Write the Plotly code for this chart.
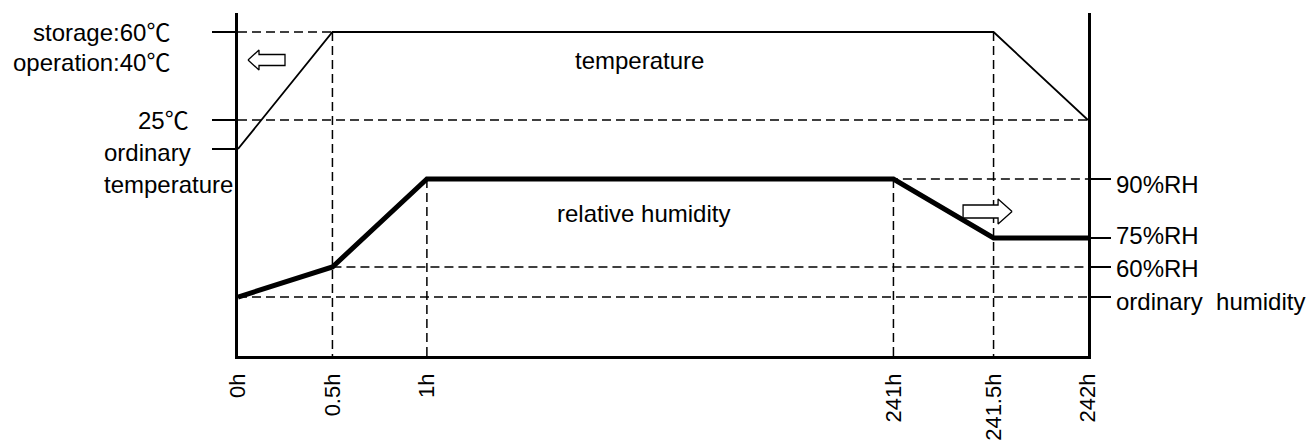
import plotly.graph_objects as go

# ---------------- data ----------------
# schematic time axis (not to scale)
time_labels = ["0h", "0.5h", "1h", "241h", "241.5h", "242h"]
time_pos = [0, 1, 2, 6.94, 8, 9]

# schematic level values (arbitrary units, axis range 0..343)
temp_level_names = ["ordinary temperature", "25℃", "60℃"]
temp_level_values = [207, 236, 324]
hum_level_names = ["ordinary humidity", "60%RH", "75%RH", "90%RH"]
hum_level_values = [59, 89, 118, 177]

# temperature profile
temp_times = ["0h", "0.5h", "241.5h", "242h"]
temp_values = [207, 324, 324, 236]

# relative-humidity profile
hum_times = ["0h", "0.5h", "1h", "241h", "241.5h", "242h"]
hum_values = [59, 89, 177, 177, 118, 118]

# dashed guide lines: (from time, to time, level)
h_guides = [("0h", "0.5h", 324), ("0h", "242h", 236), ("1h", "242h", 177),
            ("0.5h", "242h", 89), ("0h", "242h", 59)]
# (time, from level, to level)
v_guides = [("0.5h", 324, 0), ("1h", 177, 0), ("241h", 177, 0), ("241.5h", 324, 0)]

Y_MAX = 343
X_MAX = 9

FONT = "Liberation Sans, Arial, Noto Sans CJK SC, sans-serif"
pos = dict(zip(time_labels, time_pos))

fig = go.Figure()

dash = "9px,5px"
for t0, t1, lv in h_guides:
    fig.add_trace(go.Scatter(x=[pos[t0], pos[t1]], y=[lv, lv], mode="lines",
                             line=dict(color="black", width=1.5, dash=dash),
                             hoverinfo="skip", showlegend=False))
for t, l0, l1 in v_guides:
    fig.add_trace(go.Scatter(x=[pos[t], pos[t]], y=[l0, l1], mode="lines",
                             line=dict(color="black", width=1.5, dash=dash),
                             hoverinfo="skip", showlegend=False))

fig.add_trace(go.Scatter(x=[pos[t] for t in temp_times], y=temp_values, mode="lines",
                         line=dict(color="black", width=1.8), showlegend=False,
                         name="temperature"))
fig.add_trace(go.Scatter(x=[pos[t] for t in hum_times], y=hum_values, mode="lines",
                         line=dict(color="black", width=5), showlegend=False,
                         name="relative humidity"))

# hollow block arrows (pixel geometry converted to data units)
ML, MR, MT, MB = 238, 227, 13, 85
W, H = 1315, 441
px_x = (W - ML - MR) / X_MAX
px_y = (H - MT - MB) / Y_MAX


def block_arrow(tip_x, cy, direction, length, head_len, head_half, shaft_half):
    d = -direction  # body extends opposite to pointing direction
    pts = [(0, 0), (head_len, head_half), (head_len, shaft_half), (length, shaft_half),
           (length, -shaft_half), (head_len, -shaft_half), (head_len, -head_half), (0, 0)]
    xs = [tip_x + d * p[0] / px_x for p in pts]
    ys = [cy + p[1] / px_y for p in pts]
    return xs, ys


for tip_x, cy, direction, L, hl, hh, sh in [(10 / px_x, 296, -1, 37, 11, 10, 5.5),
                                            (8.196, 144.5, 1, 49, 14, 12.5, 6.5)]:
    xs, ys = block_arrow(tip_x, cy, direction, L, hl, hh, sh)
    fig.add_trace(go.Scatter(x=xs, y=ys, mode="lines", fill="toself", fillcolor="white",
                             line=dict(color="black", width=1.3), hoverinfo="skip",
                             showlegend=False))

# dummy trace on the right axis
fig.add_trace(go.Scatter(x=[0], y=[0], yaxis="y2", mode="markers",
                         marker=dict(opacity=0), hoverinfo="skip", showlegend=False))

FS = 24
ann = []


def add(text, x, y, xanchor, xref="x", xshift=0, yshift=0):
    ann.append(dict(text=text, x=x, y=y, xref=xref, yref="y", xanchor=xanchor,
                    yanchor="middle", xshift=xshift, yshift=yshift, showarrow=False,
                    font=dict(size=FS, color="black", family=FONT)))


# left labels
add("storage:60℃", 0, temp_level_values[2], "right", "paper", -66, 0)
add("operation:40℃", 0, temp_level_values[2], "right", "paper", -66, -30)
add("25℃", 0, temp_level_values[1], "right", "paper", -47, 0)
add("ordinary", 0, temp_level_values[0], "left", "paper", -136, -3)
add("temperature", 0, temp_level_values[0], "left", "paper", -136, -35)
# right labels
right_shift = {"90%RH": -5, "75%RH": 3, "60%RH": -1, "ordinary humidity": -4}
for name, lv in zip(hum_level_names, hum_level_values):
    txt = "ordinary  humidity" if name == "ordinary humidity" else name
    add(txt, 1, lv, "left", "paper", 26, right_shift[name])
# curve titles
add("temperature", 4.246, 296, "center")
add("relative humidity", 4.29, 143, "center")

fig.update_layout(
    width=W, height=H,
    margin=dict(l=ML, r=MR, t=MT, b=MB, autoexpand=False),
    paper_bgcolor="white", plot_bgcolor="white",
    font=dict(family=FONT, size=FS, color="black"),
    annotations=ann,
    xaxis=dict(range=[0, X_MAX], showgrid=False, zeroline=False, automargin=False,
               showline=True, linecolor="black", linewidth=2.5,
               tickmode="array", tickvals=time_pos, ticktext=time_labels,
               tickangle=-90, ticks="", ticklabelstandoff=6,
               tickfont=dict(size=22, family=FONT, color="black")),
    yaxis=dict(range=[0, Y_MAX], showgrid=False, zeroline=False, automargin=False,
               showline=True, linecolor="black", linewidth=2.5,
               tickmode="array", tickvals=temp_level_values, ticks="outside",
               ticklen=23, tickwidth=2, tickcolor="black", showticklabels=False),
    yaxis2=dict(range=[0, Y_MAX], overlaying="y", side="right", showgrid=False,
                zeroline=False, showline=True, linecolor="black", linewidth=2.5,
                automargin=False,
                tickmode="array", tickvals=hum_level_values, ticks="outside",
                ticklen=20, tickwidth=2, tickcolor="black", showticklabels=False),
)

fig.write_html("out.html",
               config={"displayModeBar": False},
               post_script="document.body.style.margin='0';"
                           "document.body.style.padding='0';"
                           "document.documentElement.style.overflow='hidden';")
